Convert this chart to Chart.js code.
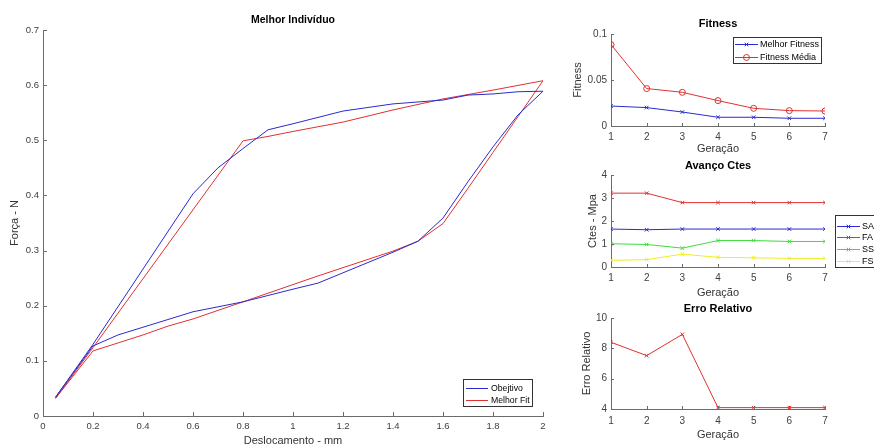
<!DOCTYPE html>
<html>
<head>
<meta charset="utf-8">
<script src="https://cdn.jsdelivr.net/npm/chart.js@4/dist/chart.umd.min.js"></script>
<style>
  html, body { margin: 0; padding: 0; background: #fff; }
  #wrap { position: relative; width: 874px; height: 445px; overflow: hidden; background: #fff; }
  #wrap canvas { position: absolute; }
</style>
</head>
<body>
<div id="wrap">
  <canvas id="c-main"  width="560" height="448" style="left:0;top:0"></canvas>
  <canvas id="c-fit"   width="340" height="160" style="left:560px;top:0"></canvas>
  <canvas id="c-ctes"  width="340" height="160" style="left:560px;top:140px"></canvas>
  <canvas id="c-erro"  width="340" height="160" style="left:560px;top:285px"></canvas>
</div>
<script>
// ── dados ───────────────────────────────────────────────────────────────────
// Melhor Indivíduo: laço carga / descarga (x em mm, y em N)
const objX = [0.05, 0.2, 0.6, 0.7, 0.8, 0.9, 1.0, 1.2, 1.4, 1.6, 1.7, 1.8, 1.9, 2.0,
              1.9, 1.8, 1.7, 1.6, 1.5, 1.4, 1.1, 1.0, 0.8, 0.6, 0.5, 0.3, 0.2, 0.05];
const objY = [0.034, 0.130, 0.403, 0.450, 0.485, 0.519, 0.530, 0.553, 0.566, 0.573, 0.582, 0.584, 0.588, 0.589,
              0.546, 0.488, 0.425, 0.359, 0.317, 0.297, 0.241, 0.230, 0.207, 0.189, 0.175, 0.147, 0.127, 0.034];
const fitX = [0.05, 0.2, 0.8, 0.9, 1.0, 1.2, 1.4, 1.6, 1.8, 2.0,
              1.9, 1.8, 1.7, 1.6, 1.5, 1.4, 1.1, 0.8, 0.6, 0.5, 0.4, 0.2, 0.05];
const fitY = [0.032, 0.124, 0.499, 0.507, 0.516, 0.533, 0.555, 0.575, 0.591, 0.608,
              0.543, 0.478, 0.413, 0.349, 0.317, 0.299, 0.254, 0.207, 0.176, 0.163, 0.147, 0.118, 0.032];
const mainXTicks = [0, 0.2, 0.4, 0.6, 0.8, 1, 1.2, 1.4, 1.6, 1.8, 2];
const mainYTicks = [0, 0.1, 0.2, 0.3, 0.4, 0.5, 0.6, 0.7];

// gerações
const geracoes    = [1, 2, 3, 4, 5, 6, 7];
const melhorFit   = [0.0217, 0.0200, 0.0152, 0.0095, 0.0095, 0.0084, 0.0084];
const fitMedia    = [0.0885, 0.0407, 0.0366, 0.0276, 0.0192, 0.0167, 0.0163];
const fitYTicks   = [0, 0.05, 0.1];

const cteSA = [1.65, 1.62, 1.65, 1.65, 1.65, 1.65, 1.65];
const cteFA = [3.21, 3.21, 2.80, 2.80, 2.80, 2.80, 2.80];
const cteSS = [1.01, 0.98, 0.82, 1.15, 1.15, 1.11, 1.11];
const cteFS = [0.29, 0.32, 0.56, 0.42, 0.40, 0.375, 0.375];
const cteYTicks = [0, 1, 2, 3, 4];

const erroRel    = [8.40, 7.52, 8.92, 4.09, 4.09, 4.09, 4.09];
const erroYTicks = [4, 6, 8, 10];

// ── estilo ──────────────────────────────────────────────────────────────────
const BLUE = '#2a2ad0', RED = '#e03030', GREEN = '#3cdc3c', YELLOW = '#eeee20';
const AXIS = '#6b6b6b', TICK_TXT = '#404040';
Chart.defaults.font.family = '"Liberation Sans", Arial, sans-serif';
Chart.defaults.color = TICK_TXT;

const pts = (xs, ys) => xs.map((x, i) => ({ x, y: ys[i] }));
const fixTicks = arr => s => { s.ticks = arr.map(v => ({ value: v })); };
const fmt = v => String(parseFloat(Number(v).toFixed(4)));   // 0.1, 1, 1.2 — sem zeros à direita

// marcas de escala para dentro (estilo MATLAB)
const inwardTicks = {
  id: 'inwardTicks',
  afterDatasetsDraw(chart, args, o) {
    const { ctx, chartArea: a, scales: { x, y } } = chart;
    ctx.save();
    ctx.strokeStyle = AXIS; ctx.lineWidth = 1;
    ctx.beginPath();
    x.ticks.forEach(t => {
      const px = Math.round(x.getPixelForValue(t.value)) + 0.5;
      ctx.moveTo(px, a.bottom); ctx.lineTo(px, a.bottom - o.len);
    });
    y.ticks.forEach(t => {
      const py = Math.round(y.getPixelForValue(t.value)) + 0.5;
      ctx.moveTo(a.left, py); ctx.lineTo(a.left + o.len, py);
    });
    ctx.stroke();
    ctx.restore();
  }
};

// legenda em caixa: linha + marcador + texto
const boxLegend = {
  id: 'boxLegend',
  afterDraw(chart, args, o) {
    const { ctx } = chart;
    ctx.save();
    ctx.fillStyle = '#fff'; ctx.strokeStyle = '#333'; ctx.lineWidth = 1;
    ctx.fillRect(o.x, o.y, o.w, o.h);
    ctx.strokeRect(o.x + 0.5, o.y + 0.5, o.w, o.h);
    ctx.font = `${o.size}px "Liberation Sans", Arial, sans-serif`;
    ctx.textBaseline = 'middle';
    chart.data.datasets.forEach((ds, i) => {
      const cy = Math.round(o.y + o.first + i * o.row) + 0.5;
      const x0 = o.x + o.lpad, x1 = x0 + o.line;
      ctx.strokeStyle = ds.borderColor; ctx.lineWidth = 1;
      ctx.beginPath(); ctx.moveTo(x0, cy); ctx.lineTo(x1, cy); ctx.stroke();
      if (ds.pointRadius) {
        ctx.fillStyle = 'rgba(0,0,0,0)';
        Chart.helpers.drawPoint(ctx, { pointStyle: ds.pointStyle, radius: ds.pointRadius, borderWidth: 1, rotation: 0 }, (x0 + x1) / 2, cy);
      }
      ctx.fillStyle = '#000';
      ctx.fillText(ds.label, o.x + o.text, cy);
    });
    ctx.restore();
  }
};

function axisX(opts) {
  return {
    type: 'linear', min: opts.min, max: opts.max,
    afterBuildTicks: fixTicks(opts.ticks), afterFit: s => { s.height = opts.h; },
    grid: { display: false, drawTicks: false }, border: { color: AXIS, width: 1 },
    ticks: { font: { size: opts.size }, padding: opts.pad, maxRotation: 0, color: TICK_TXT, callback: fmt },
    title: { display: true, text: opts.title, font: { size: 11 }, color: '#333', padding: { top: 0, bottom: opts.tpad } }
  };
}
function axisY(opts) {
  return {
    type: 'linear', min: opts.min, max: opts.max,
    afterBuildTicks: fixTicks(opts.ticks), afterFit: s => { s.width = opts.w; },
    grid: { display: false, drawTicks: false }, border: { color: AXIS, width: 1 },
    ticks: { font: { size: opts.size }, padding: 4, color: TICK_TXT, callback: fmt },
    title: { display: true, text: opts.title, font: { size: 11 }, color: '#333', padding: { top: opts.tpad, bottom: 0 } }
  };
}
function titleOpts(text, size, top, bottom) {
  return { display: true, fullSize: false, text, color: '#000', font: { size, weight: 'bold' }, padding: { top, bottom } };
}

// ── Melhor Indivíduo ────────────────────────────────────────────────────────
new Chart(document.getElementById('c-main'), {
  type: 'scatter',
  data: {
    datasets: [
      { label: 'Obejtivo',   data: pts(objX, objY), showLine: true, borderColor: BLUE, borderWidth: 1, pointRadius: 0 },
      { label: 'Melhor Fit', data: pts(fitX, fitY), showLine: true, borderColor: RED,  borderWidth: 1, pointRadius: 0 }
    ]
  },
  plugins: [inwardTicks, boxLegend],
  options: {
    responsive: false, animation: false, events: [],
    layout: { padding: { left: 0, right: 17, top: 0, bottom: 0 } },
    plugins: {
      legend: { display: false }, tooltip: { enabled: false },
      title: titleOpts('Melhor Indivíduo', 10.5, 14.2, 3.2),
      inwardTicks: { len: 4 },
      boxLegend: { x: 463, y: 379, w: 69, h: 27, first: 9, row: 12, lpad: 3, line: 22, text: 28, size: 8.7 }
    },
    scales: {
      x: axisX({ min: 0, max: 2, ticks: mainXTicks, h: 32, size: 9.5, pad: 5, title: 'Deslocamento - mm', tpad: 0 }),
      y: axisY({ min: 0, max: 0.7, ticks: mainYTicks, w: 43, size: 9.5, title: 'Força - N', tpad: 8.4 })
    }
  }
});

// ── Fitness ─────────────────────────────────────────────────────────────────
new Chart(document.getElementById('c-fit'), {
  type: 'line',
  data: {
    datasets: [
      { label: 'Melhor Fitness', data: pts(geracoes, melhorFit), borderColor: BLUE, borderWidth: 1,
        pointStyle: 'crossRot', pointRadius: 2.5, pointBorderColor: BLUE, pointBorderWidth: 1 },
      { label: 'Fitness Média', data: pts(geracoes, fitMedia), borderColor: RED, borderWidth: 1,
        pointStyle: 'circle', pointRadius: 3, pointBorderColor: RED, pointBackgroundColor: 'rgba(0,0,0,0)', pointBorderWidth: 1 }
    ]
  },
  plugins: [inwardTicks, boxLegend],
  options: {
    responsive: false, animation: false, events: [],
    layout: { padding: { left: 0, right: 75, top: 0, bottom: 0 } },
    plugins: {
      legend: { display: false }, tooltip: { enabled: false },
      title: titleOpts('Fitness', 11, 17.4, 3.4),
      inwardTicks: { len: 3 },
      boxLegend: { x: 173, y: 37, w: 88, h: 26, first: 7, row: 12.7, lpad: 2, line: 23, text: 27, size: 9 }
    },
    scales: {
      x: axisX({ min: 1, max: 7, ticks: geracoes, h: 34, size: 10, pad: 5, title: 'Geração', tpad: 4.4 }),
      y: axisY({ min: 0, max: 0.1, ticks: fitYTicks, w: 51, size: 10, title: 'Fitness', tpad: 11.4 })
    }
  }
});

// ── Avanço Ctes ─────────────────────────────────────────────────────────────
const cteSet = (label, arr, color) => ({
  label, data: pts(geracoes, arr), borderColor: color, borderWidth: 1,
  pointStyle: 'crossRot', pointRadius: 2.5, pointBorderColor: color, pointBorderWidth: 1
});
new Chart(document.getElementById('c-ctes'), {
  type: 'line',
  data: {
    datasets: [
      cteSet('SA', cteSA, BLUE),
      cteSet('FA', cteFA, RED),
      cteSet('SS', cteSS, GREEN),
      cteSet('FS', cteFS, YELLOW)
    ]
  },
  plugins: [inwardTicks, boxLegend],
  options: {
    responsive: false, animation: false, events: [],
    layout: { padding: { left: 0, right: 75, top: 0, bottom: 0 } },
    plugins: {
      legend: { display: false }, tooltip: { enabled: false },
      title: titleOpts('Avanço Ctes', 11, 19.4, 2.4),
      inwardTicks: { len: 3 },
      boxLegend: { x: 275, y: 75, w: 60, h: 52, first: 10.5, row: 11.7, lpad: 2, line: 23, text: 27, size: 9 }
    },
    scales: {
      x: axisX({ min: 1, max: 7, ticks: geracoes, h: 33, size: 10, pad: 5, title: 'Geração', tpad: 0 }),
      y: axisY({ min: 0, max: 4, ticks: cteYTicks, w: 51, size: 10, title: 'Ctes - Mpa', tpad: 26.4 })
    }
  }
});

// ── Erro Relativo ───────────────────────────────────────────────────────────
new Chart(document.getElementById('c-erro'), {
  type: 'line',
  data: {
    datasets: [
      { label: 'Erro', data: pts(geracoes, erroRel), borderColor: RED, borderWidth: 1,
        pointStyle: 'crossRot', pointRadius: 2.5, pointBorderColor: RED, pointBorderWidth: 1 }
    ]
  },
  plugins: [inwardTicks],
  options: {
    responsive: false, animation: false, events: [],
    layout: { padding: { left: 0, right: 75, top: 0, bottom: 0 } },
    plugins: {
      legend: { display: false }, tooltip: { enabled: false },
      title: titleOpts('Erro Relativo', 11, 17.4, 2.4),
      inwardTicks: { len: 3 }
    },
    scales: {
      x: axisX({ min: 1, max: 7, ticks: geracoes, h: 36, size: 10, pad: 6, title: 'Geração', tpad: 3.4 }),
      y: axisY({ min: 4, max: 10, ticks: erroYTicks, w: 51, size: 10, title: 'Erro Relativo', tpad: 20.4 })
    }
  }
});
</script>
</body>
</html>
